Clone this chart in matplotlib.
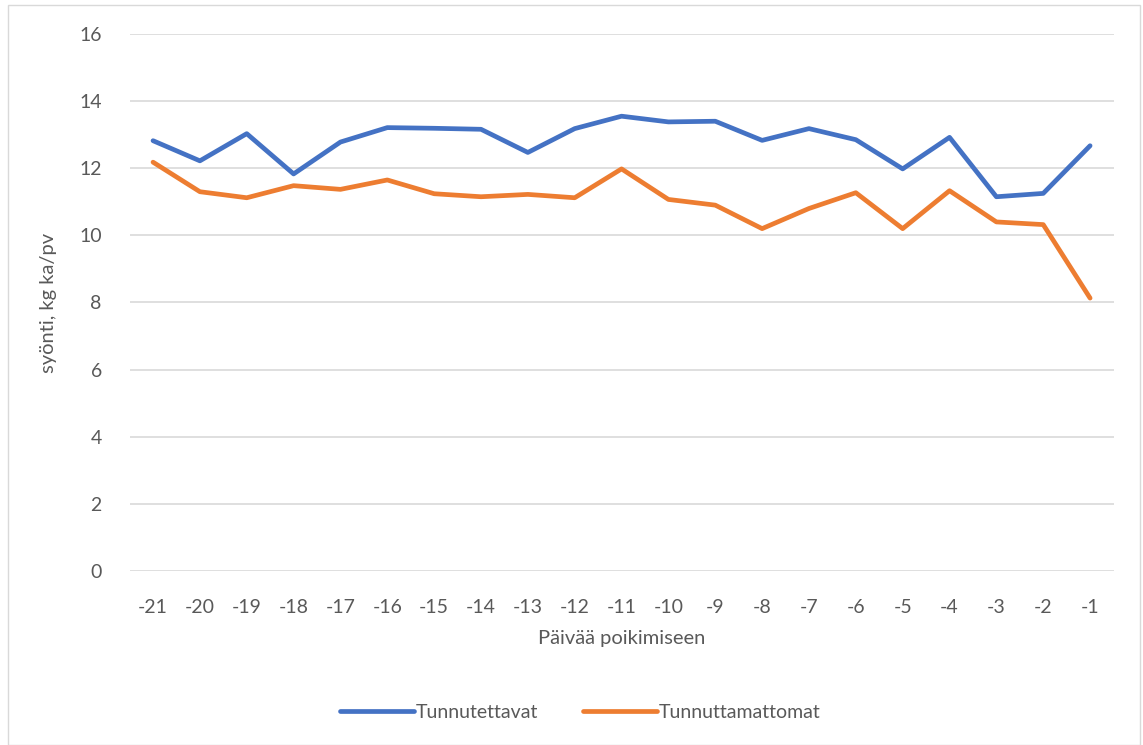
import matplotlib
matplotlib.use('Agg')
import matplotlib.pyplot as plt
from matplotlib.patches import Rectangle

# --- Data ---
days = ['-21', '-20', '-19', '-18', '-17', '-16', '-15', '-14', '-13', '-12', '-11',
        '-10', '-9', '-8', '-7', '-6', '-5', '-4', '-3', '-2', '-1']
tunnutettavat = [12.82, 12.22, 13.03, 11.83, 12.78, 13.21, 13.19, 13.16, 12.47, 13.18, 13.55,
                 13.38, 13.40, 12.83, 13.18, 12.85, 11.98, 12.92, 11.15, 11.25, 12.67]
tunnuttamattomat = [12.18, 11.30, 11.12, 11.48, 11.37, 11.65, 11.24, 11.15, 11.22, 11.12, 11.98,
                    11.07, 10.90, 10.20, 10.80, 11.27, 10.20, 11.33, 10.40, 10.32, 8.13]
y_ticks = [0, 2, 4, 6, 8, 10, 12, 14, 16]

text_color = '#595959'
plt.rcParams['font.family'] = ['Lato', 'DejaVu Sans']

# --- Plotting ---
fig = plt.figure(figsize=(11.43, 7.45), dpi=100)
ax = fig.add_axes([0.1134, 0.2336, 0.8608, 0.7208])

# light outer border like the Excel chart area
fig.patches.append(Rectangle((0.007, 0.0), 0.99, 0.993, transform=fig.transFigure,
                             fill=False, edgecolor='#d9d9d9', linewidth=1))

x = list(range(len(days)))
ax.plot(x, tunnutettavat, color='#4472C4', lw=3.4, solid_capstyle='round',
        solid_joinstyle='round', label='Tunnutettavat')
ax.plot(x, tunnuttamattomat, color='#ED7D31', lw=3.4, solid_capstyle='round',
        solid_joinstyle='round', label='Tunnuttamattomat')

ax.set_xlim(-0.5, len(days) - 0.5)
ax.set_ylim(0, 16)
ax.set_yticks(y_ticks)
ax.set_xticks(x)
ax.set_xticklabels(days)
ax.tick_params(axis='both', length=0, labelsize=14, colors=text_color)
ax.tick_params(axis='y', pad=20)
ax.tick_params(axis='x', pad=20)
ax.grid(axis='y', color='#d9d9d9', lw=1.2)
ax.set_axisbelow(True)
for s in ax.spines.values():
    s.set_visible(False)

ax.set_xlabel('Päivää poikimiseen', fontsize=14.5, color=text_color, labelpad=10)
ax.set_ylabel('syönti, kg ka/pv', fontsize=14.5, color=text_color, labelpad=16)

leg = fig.legend(loc='center', bbox_to_anchor=(0.508, 0.044), ncol=2, frameon=False,
                 fontsize=14, handlelength=3.8, handletextpad=0.1, columnspacing=2.3)
for t in leg.get_texts():
    t.set_color(text_color)

fig.savefig('out.png', dpi=100)
